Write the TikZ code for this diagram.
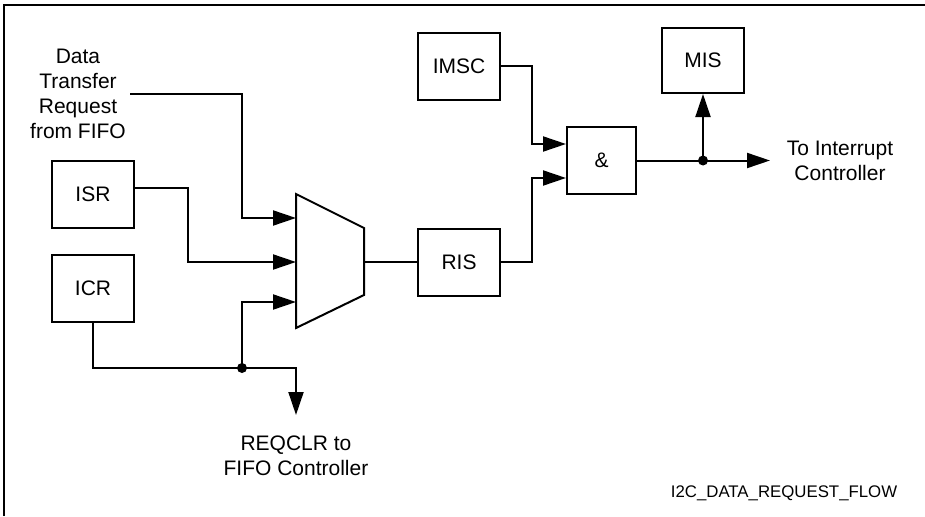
\documentclass[tikz,border=0pt]{standalone}
\usepackage{fontspec}
\setmainfont{Liberation Sans}
\usetikzlibrary{arrows.meta}

\begin{document}
\begin{tikzpicture}[
    x=1pt, y=-1pt,
    reg/.style={rectangle, draw, line width=2pt, minimum width=82pt, minimum height=67pt, inner sep=0pt, font=\fontsize{21}{25}\selectfont},
    txt/.style={align=center, inner sep=0pt, font=\fontsize{21}{25}\selectfont},
    dot/.style={circle, fill, inner sep=0pt, minimum size=10pt},
    wire/.style={line width=2pt},
    arrow/.style={-{Triangle[length=23pt,width=15pt]}, line width=2pt}
]
    \useasboundingbox (0,0) rectangle (925,516);
    \draw[line width=1.4pt] (4,516) -- (4,5) -- (925,5);

    \node[txt, inner xsep=4pt] (dtr) at (78,94) {Data\\Transfer\\Request\\from FIFO};
    \node[reg] (isr) at (93,194.5) {ISR};
    \node[reg] (icr) at (93,288.5) {ICR};
    \node[reg] (imsc) at (459,66.5) {IMSC};
    \node[reg] (ris) at (459,262) {RIS};
    \node[reg, minimum width=69pt] (and) at (601.5,160.5) {\&};
    \node[reg, minimum height=65pt] (mis) at (703,60.5) {MIS};
    \node[txt] (irq) at (840,161) {To Interrupt\\Controller};
    \node[txt] (reqclr) at (296,456) {REQCLR to\\FIFO Controller};
    \node[txt, font=\fontsize{16.8}{20}\selectfont] (fig) at (784,493) {I2C\_DATA\_REQUEST\_FLOW};

    \draw[wire, line join=miter] (296,194) coordinate (mux-tl) -- (364,228) -- (364,295) -- (296,328) coordinate (mux-bl) -- cycle;
    \coordinate (mux-a) at (296,218);
    \coordinate (mux-b) at (296,262);
    \coordinate (mux-c) at (296,302);
    \coordinate (mux-out) at (364,262);
    \coordinate (clrout) at (296,415);
    \coordinate (irqout) at (770,160.5);

    \node[dot] (jn1) at (242,368) {};
    \node[dot] (jn2) at (703,160.5) {};

    \draw[arrow] (dtr.east) -| ([xshift=-54pt]mux-a) -- (mux-a);
    \draw[arrow] ([yshift=6.5pt]isr.east) -| ([xshift=-108pt]mux-b) -- (mux-b);
    \draw[arrow] (icr.south) |- (jn1.center) -| (clrout);
    \draw[arrow] (jn1.center) |- (mux-c);
    \draw[wire] (mux-out) -- (ris.west);
    \draw[arrow] (imsc.east) -| ([xshift=-34pt,yshift=16.5pt]and.west) -- ([yshift=16.5pt]and.west);
    \draw[arrow] (ris.east) -| ([xshift=-34pt,yshift=-17.5pt]and.west) -- ([yshift=-17.5pt]and.west);
    \draw[arrow] (and.east) -- (irqout);
    \draw[arrow] (jn2.center) -- (mis.south);
\end{tikzpicture}
\end{document}
